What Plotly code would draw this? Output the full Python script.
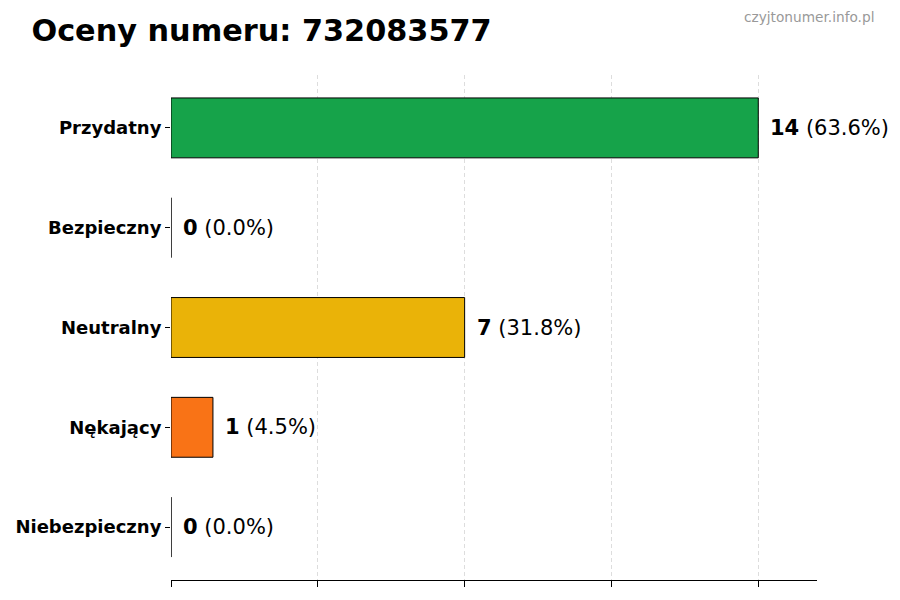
import plotly.graph_objects as go

categories = ['Przydatny', 'Bezpieczny', 'Neutralny', 'Nękający', 'Niebezpieczny']
counts = [14, 0, 7, 1, 0]
colors = ['#16a34a', '#3b82f6', '#eab308', '#f97316', '#dc2626']
number = '732083577'

total = sum(counts)
labels = ['<b>%d</b> (%.1f%%)' % (c, 100.0 * c / total) for c in counts]

fig = go.Figure()
fig.add_trace(go.Bar(
    y=categories, x=counts, orientation='h', width=0.6,
    marker=dict(color=colors, line=dict(color='black', width=1)),
    showlegend=False,
))

# etykiety z wartościami obok słupków
for cat, c, lab in zip(categories, counts, labels):
    fig.add_annotation(x=c, y=cat, text=lab, showarrow=False, xanchor='left',
                       xshift=10, font=dict(family='DejaVu Sans', size=21, color='black'))

fig.update_layout(
    width=900, height=600,
    paper_bgcolor='white', plot_bgcolor='white',
    margin=dict(l=163, r=91, t=67, b=28),
    font=dict(family='DejaVu Sans', color='black'),
    title=dict(text='<b>Oceny numeru: ' + number + '</b>', x=0.026, xanchor='left',
               y=0.963, yanchor='middle', font=dict(size=30.3, color='black')),
)
fig.add_annotation(text='czyjtonumer.info.pl', xref='paper', yref='paper', x=1.092, y=1.114,
                   xanchor='right', yanchor='middle', showarrow=False,
                   font=dict(size=13.7, color='#999999'))
fig.update_xaxes(range=[0, 15.4], dtick=3.5, tick0=0, showticklabels=False,
                 ticks='outside', ticklen=6, tickcolor='black',
                 showgrid=True, gridcolor='#dddddd', griddash='4px,3px', gridwidth=1,
                 showline=True, linecolor='black', linewidth=1, zeroline=False,
                 automargin=False)
fig.update_yaxes(autorange=False, range=[4.53, -0.53], ticks='outside', ticklen=5,
                 tickcolor='black', showline=False, showgrid=False,
                 tickfont=dict(size=18, color='black', family='DejaVu Sans'),
                 ticklabelstandoff=0, automargin=False)
fig.update_yaxes(tickprefix='<b>', ticksuffix='</b>')

fig.write_html('out.html')
